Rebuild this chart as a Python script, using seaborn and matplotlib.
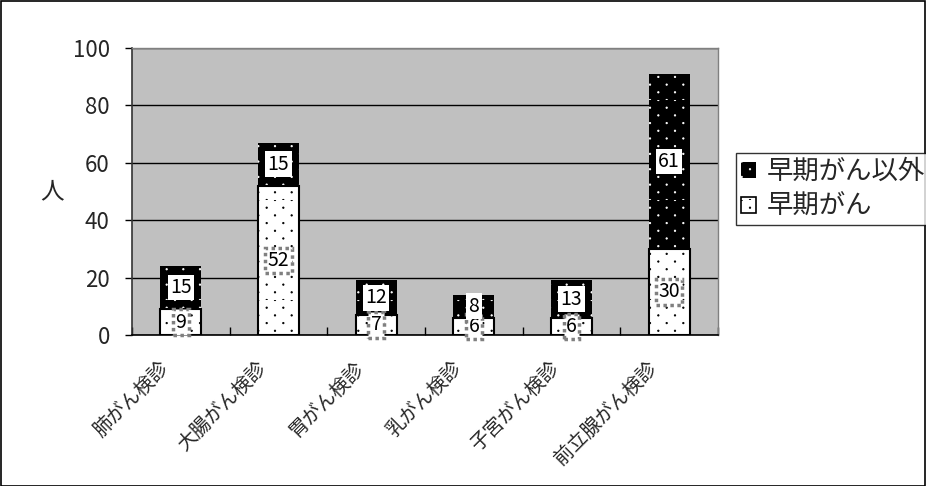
import matplotlib
matplotlib.use("Agg")
import matplotlib.pyplot as plt
import matplotlib.hatch as mhatch
import matplotlib.transforms as mtrans
from matplotlib.path import Path
import seaborn as sns
import pandas as pd
from matplotlib.patches import Patch, Rectangle

categories = ["肺がん検診", "大腸がん検診", "胃がん検診", "乳がん検診", "子宮がん検診", "前立腺がん検診"]
early = [9, 52, 7, 6, 6, 30]          # 早期がん
non_early = [15, 15, 12, 8, 13, 61]   # 早期がん以外
series_names = ["早期がん以外", "早期がん"]
yticks = [0, 20, 40, 60, 80, 100]
ylabel = "人"


# sparse sprinkled-dot texture (Excel-like), replacing the default '.' hatch
class _Sprinkle(mhatch.HatchPatternBase):
    def __init__(self, hatch, density):
        n = hatch.count('.')
        self.pts = []
        circ = Path.unit_circle()
        self.shape_vertices = circ.vertices * 0.007
        self.shape_codes = circ.codes
        if n:
            rows, cols = 13, 6
            for r in range(rows + 1):
                y = r / rows
                if r % 2 == 0:
                    xs = [c / cols for c in range(cols + 1)]
                else:
                    xs = [(c + 0.5) / cols for c in range(cols)]
                self.pts += [(x, y) for x in xs]
        self.num_vertices = len(self.pts) * len(self.shape_vertices)

    def set_vertices_and_codes(self, vertices, codes):
        nv = len(self.shape_vertices)
        for i, (x, y) in enumerate(self.pts):
            vertices[i * nv:(i + 1) * nv] = self.shape_vertices + (x, y)
            codes[i * nv:(i + 1) * nv] = self.shape_codes


mhatch._hatch_types = [t for t in mhatch._hatch_types if t is not mhatch.SmallFilledCircles] + [_Sprinkle]

sns.set_theme(style="white")
plt.rcParams["font.family"] = ["Noto Sans CJK JP", "DejaVu Sans"]
plt.rcParams["hatch.linewidth"] = 0.6

total = [a + b for a, b in zip(early, non_early)]
df = pd.DataFrame({"cat": categories, "early": early, "non_early": non_early, "total": total})

fig = plt.figure(figsize=(9.26, 4.86), dpi=100)
ax = fig.add_axes([132 / 926, 1 - 335 / 486, 586 / 926, 287 / 486])
ax.set_facecolor("#C0C0C0")

n = len(categories)
sns.barplot(data=df, x="cat", y="total", color="black", width=0.42, ax=ax,
            edgecolor="white", linewidth=0, saturation=1, zorder=3)
for p in ax.patches[:n]:
    p.set_hatch(".")
    p.set_facecolor("black")
    p.set_edgecolor("white")
    p.set_linewidth(0)
sns.barplot(data=df, x="cat", y="early", color="white", width=0.42, ax=ax,
            edgecolor="black", linewidth=1.5, saturation=1, zorder=4)
for p in ax.patches[n:2 * n]:
    p.set_hatch(".")
    p.set_facecolor("white")
    p.set_edgecolor("black")
    p.set_linewidth(1.5)

# value labels
for i in range(n):
    ax.text(i, early[i] / 2, str(early[i]), ha="center", va="center", fontsize=14,
            zorder=6, color="black",
            bbox=dict(boxstyle="square,pad=0.12", facecolor="white", edgecolor="#808080",
                      linewidth=2.5, linestyle=(0, (1, 1))))
    ax.text(i, early[i] + non_early[i] / 2, str(non_early[i]), ha="center", va="center",
            fontsize=14, zorder=6, color="black",
            bbox=dict(boxstyle="square,pad=0.12", facecolor="white", edgecolor="none"))

ax.set_ylim(0, 100)
ax.set_xlim(-0.5, n - 0.5)
ax.set_yticks(yticks)
ax.set_yticklabels([str(t) for t in yticks], fontsize=16)
ax.yaxis.grid(True, color="black", linewidth=1.0, zorder=1)
ax.set_axisbelow(True)
ax.tick_params(axis="y", which="major", direction="out", length=5, width=1, color="black",
               left=True, pad=11)
ax.tick_params(axis="x", which="major", length=0, pad=3)
ax.set_xticks(range(n))
ax.set_xticklabels(categories, rotation=45, ha="right", va="top", rotation_mode="anchor", fontsize=14)
shift = mtrans.ScaledTranslation(-0.22, -0.18, fig.dpi_scale_trans)
for lab in ax.get_xticklabels():
    lab.set_transform(lab.get_transform() + shift)
ax.set_xticks([i + 0.5 for i in range(-1, n)], minor=True)
ax.tick_params(axis="x", which="minor", direction="in", length=6, width=1, color="black", bottom=True)
ax.set_xlabel("")
ax.set_ylabel(ylabel, rotation=0, fontsize=17, va="center", ha="center")
ax.yaxis.set_label_coords((52 - 132) / 586, 0.5)

for side in ["top", "right"]:
    ax.spines[side].set_color("#808080")
    ax.spines[side].set_linewidth(1)
ax.spines["left"].set_color("#333333")
ax.spines["left"].set_linewidth(1.2)
ax.spines["bottom"].set_color("black")
ax.spines["bottom"].set_linewidth(1.2)

handles = [Patch(facecolor="black", edgecolor="white", hatch=".", linewidth=0),
           Patch(facecolor="white", edgecolor="black", hatch=".", linewidth=1.2)]
leg = fig.legend(handles, series_names, loc="upper left", bbox_to_anchor=(736 / 926, 1 - 153 / 486),
                 frameon=True, fancybox=False, fontsize=19, handlelength=0.55, handleheight=0.55,
                 handletextpad=0.4, borderpad=0.2, labelspacing=0.3, borderaxespad=0)
leg.get_frame().set_edgecolor("black")
leg.get_frame().set_linewidth(1)

fig.patches.append(Rectangle((0.001, 0.001), 0.998, 0.997, transform=fig.transFigure,
                             fill=False, edgecolor="black", linewidth=1.2))

fig.savefig("out.png", dpi=100)
